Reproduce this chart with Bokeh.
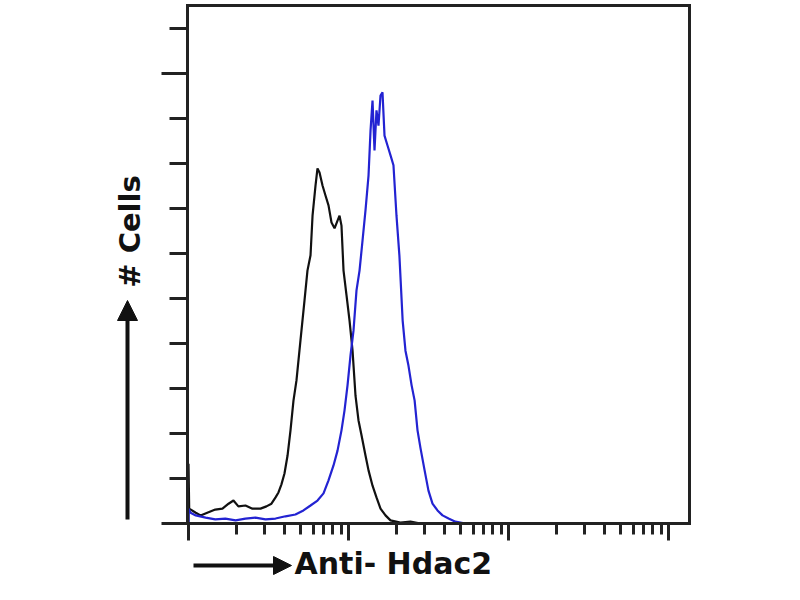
import math
from bokeh.plotting import figure
from bokeh.models import (Range1d, FixedTicker, Label, Arrow, NormalHead,
                          LinearAxis, LogAxis)
from bokeh.embed import file_html
from bokeh.resources import INLINE

# ---- data (fluorescence intensity, cell count) ----
isotype_intensity = [1.0, 1.0, 1.01, 1.11, 1.19, 1.31, 1.47, 1.63, 1.78, 1.91, 2.05, 2.27, 2.51, 2.82, 3.07,
                     3.30, 3.50, 3.65, 3.81, 3.98, 4.16, 4.34, 4.53, 4.73, 5.01, 5.31, 5.54, 5.79, 5.96, 6.22,
                     6.40, 6.59, 6.88, 7.18, 7.50, 7.83, 8.18, 8.54, 8.79, 9.04, 9.31, 9.72, 10.15, 10.6, 11.06,
                     11.55, 12.06, 12.77, 13.34, 14.13, 14.96, 15.85, 17.03, 18.3, 21.1, 24.4, 28.2, 37.6, 50.1, 89.1]
isotype_count = [0, 13.3, 3.3, 2.4, 1.8, 2.4, 3.1, 3.3, 4.4, 5.1, 3.8, 4.0, 3.3, 3.3, 3.8,
                 4.4, 5.8, 6.9, 8.7, 11.1, 15.1, 20.7, 27.3, 31.8, 40.7, 49.6, 56.2, 59.6, 68.4, 75.1,
                 78.9, 78.0, 75.1, 72.9, 70.7, 66.9, 65.6, 67.3, 68.4, 66.2, 56.2, 50.7, 45.1, 38.4, 28.4,
                 22.9, 19.6, 15.1, 11.8, 8.4, 5.8, 3.3, 1.8, 0.7, 0.2, 0.4, 0, 0, 0, 0]

hdac2_intensity = [1.0, 1.0, 1.03, 1.11, 1.28, 1.47, 1.70, 1.97, 2.27, 2.62, 3.03, 3.50, 4.04, 4.66, 5.23,
                   5.79, 6.40, 6.98, 7.50, 8.06, 8.54, 9.04, 9.44, 9.86, 10.29, 10.75, 11.22, 11.72, 12.24, 12.77,
                   13.34, 13.73, 14.13, 14.54, 14.96, 15.40, 15.85, 16.31, 16.79, 17.53, 18.31, 19.1, 19.95, 20.8, 21.8,
                   22.7, 23.7, 24.8, 25.9, 27.0, 28.2, 29.9, 31.6, 33.5, 36.0, 38.7, 42.2, 46.6, 53.8, 89.1]
hdac2_count = [0, 3.3, 2.4, 1.8, 1.3, 0.9, 1.1, 0.7, 1.1, 1.3, 0.9, 1.1, 1.6, 2.0, 2.9,
               4.0, 5.1, 6.7, 9.6, 12.9, 16.2, 20.7, 25.1, 30.7, 37.3, 42.9, 51.8, 56.2, 62.9, 69.6,
               77.3, 87.3, 94.0, 82.9, 91.8, 88.4, 95.1, 95.8, 86.2, 84.0, 81.8, 79.6, 68.4, 59.6, 45.1,
               38.4, 35.1, 30.7, 27.3, 20.7, 16.7, 11.8, 7.3, 4.4, 2.9, 1.8, 1.1, 0.4, 0, 0]

x_major = [1, 10, 100, 1000]
x_minor = [m * d for d in (1, 10, 100, 1000) for m in range(2, 10) if m * d < 1350]
y_major = [0, 100]
y_minor = list(range(10, 120, 10))

x_label = "Anti- Hdac2"
y_label = "# Cells"

W, H = 784, 584

# ---- pixel <-> data helpers (layout only) ----
def dx(px):
    return 10 ** ((px - 188) / 160.0)

def dy(py):
    return (523 - py) / 4.5

box_left, box_right = dx(187), dx(689)
box_bottom, box_top = 0.0, dy(5)

p = figure(width=W, height=H, output_backend="svg", toolbar_location=None,
           x_axis_type="log", x_axis_location=None, y_axis_location=None,
           x_range=Range1d(dx(0), dx(W)), y_range=Range1d(dy(H), dy(0)),
           min_border=0)
p.background_fill_color = "white"
p.border_fill_color = "white"
p.outline_line_color = None
p.grid.visible = False

def style(ax):
    ax.axis_line_color = "#222222"
    ax.axis_line_width = 3
    ax.axis_line_cap = "square"
    ax.major_tick_line_color = "#222222"
    ax.minor_tick_line_color = "#222222"
    ax.major_tick_line_width = 3
    ax.minor_tick_line_width = 3
    ax.major_tick_in = 0
    ax.minor_tick_in = 0
    ax.major_label_text_font_size = "0px"
    ax.major_label_text_color = None
    return ax

xb = style(LogAxis(fixed_location=box_bottom, bounds=(box_left, box_right),
                   ticker=FixedTicker(ticks=x_major, minor_ticks=x_minor)))
xb.major_tick_out = 17
xb.minor_tick_out = 11
p.add_layout(xb, "below")

yl = style(LinearAxis(fixed_location=box_left, bounds=(box_bottom, box_top),
                      ticker=FixedTicker(ticks=y_major, minor_ticks=y_minor)))
yl.major_tick_out = 26
yl.minor_tick_out = 18
p.add_layout(yl, "left")

xt = style(LogAxis(fixed_location=box_top, bounds=(box_left, box_right),
                   ticker=FixedTicker(ticks=[], minor_ticks=[])))
p.add_layout(xt, "above")
yr = style(LinearAxis(fixed_location=box_right, bounds=(box_bottom, box_top),
                      ticker=FixedTicker(ticks=[], minor_ticks=[])))
p.add_layout(yr, "right")

p.line(isotype_intensity, isotype_count, line_color="#111111", line_width=2.2)
p.line(hdac2_intensity, hdac2_count, line_color="#2323d2", line_width=2.2)

p.add_layout(Label(x=dx(129), y=dy(231), text=y_label, angle=math.pi / 2,
                   text_align="center", text_baseline="middle",
                   text_font="DejaVu Sans", text_font_style="bold",
                   text_font_size="29px", text_color="#111111"))
p.add_layout(Label(x=dx(294), y=dy(563), text=x_label,
                   text_align="left", text_baseline="middle",
                   text_font="DejaVu Sans", text_font_style="bold",
                   text_font_size="30px", text_color="#111111"))

p.add_layout(Arrow(x_start=dx(127), y_start=dy(519), x_end=dx(127), y_end=dy(300),
                   line_width=4, line_color="#111111",
                   end=NormalHead(size=20, fill_color="#111111", line_color="#111111")))
p.add_layout(Arrow(x_start=dx(193), y_start=dy(565), x_end=dx(291), y_end=dy(565),
                   line_width=4, line_color="#111111",
                   end=NormalHead(size=18, fill_color="#111111", line_color="#111111")))

open("out.html", "w").write(file_html(p, INLINE))
